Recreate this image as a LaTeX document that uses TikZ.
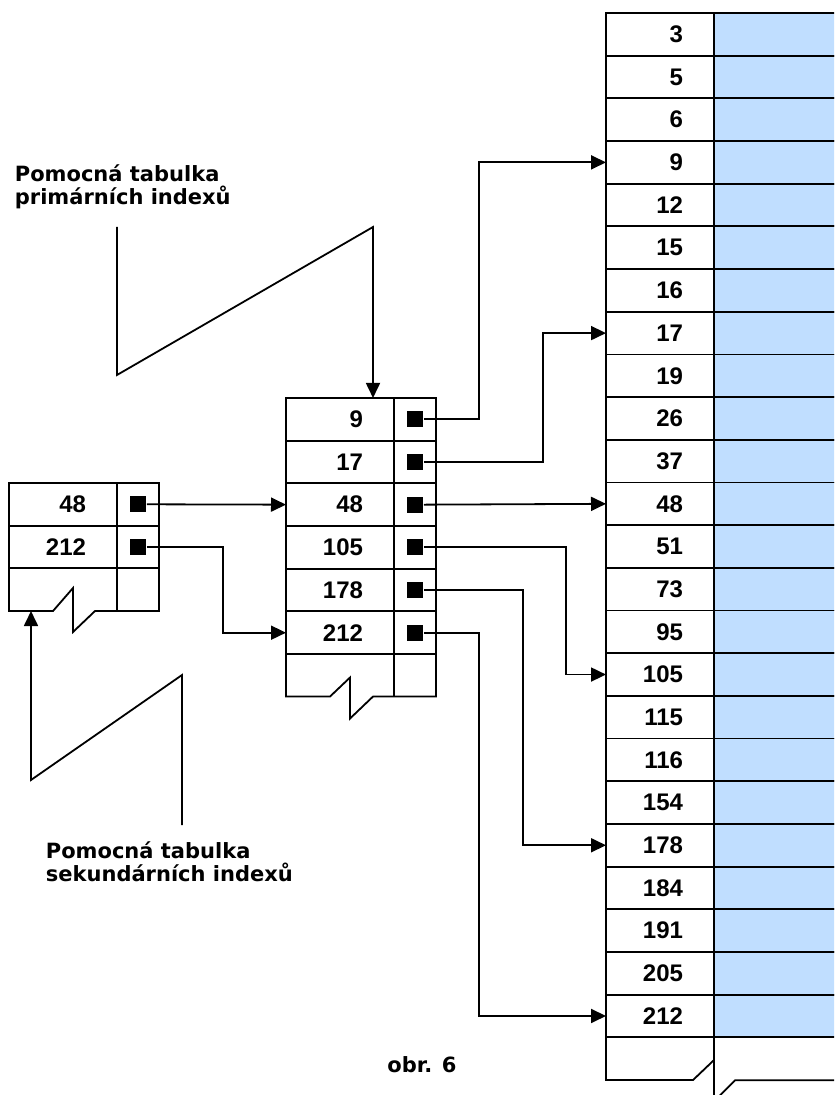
\documentclass[tikz,border=0pt]{standalone}
\usepackage{fontspec}
\setmainfont{DejaVu Sans}
\newfontfamily\numfont{Liberation Sans}
\usepackage{tikz}
\usetikzlibrary{positioning,arrows.meta}
\definecolor{recblue}{RGB}{192,222,255}

\begin{document}
\begin{tikzpicture}[
  x=0.5pt, y=-0.5pt, line width=0.9pt,
  font=\bfseries\fontsize{10.5}{11.5}\selectfont,
  keycell/.style={draw, outer sep=0pt, minimum height=21.34pt, text width=23pt,
    inner xsep=15.5pt, inner ysep=0pt, align=right,
    font=\numfont\bfseries\fontsize{12}{14}\selectfont},
  ptrcell/.style={draw, outer sep=0pt, minimum height=21.34pt, minimum width=21pt, inner sep=0pt},
  datacell/.style={draw, fill=recblue, outer sep=0pt, minimum height=21.34pt,
    minimum width=70pt, inner sep=0pt},
  ptrmark/.style={fill=black, minimum size=8pt, inner sep=0pt},
  lbl/.style={align=left, inner sep=0pt},
  arr/.style={-{Triangle[length=7.5pt, width=7pt]}}
]
\useasboundingbox (0,0) rectangle (834,1095);
\clip (0,0) rectangle (834,1095);

% data file, sorted by key
\foreach \k [count=\i from 0] in {3,5,6,9,12,15,16,17,19,26,37,48,51,73,95,105,115,116,154,178,184,191,205,212}{
  \node[keycell] (d-\k) at (660,{34.34+42.68*\i}) {\k};
  \node[datacell, right=0pt of d-\k] (v-\k) {};
}
\draw (d-212.south west) -- ++(0,42.7) -- ++(87,0) -- ++(21,-20);
\draw (d-212.south east) -- ++(0,70);
\draw ([shift={(4,60)}]d-212.south east) -- ++(17,-17) -- ++(120,0);

% primary index table
\node[keycell] (m-9) at (340,419.3) {9};
\foreach \k/\up in {17/9,48/17,105/48,178/105,212/178}
  \node[keycell, below=0pt of m-\up] (m-\k) {\k};
\foreach \k in {9,17,48,105,178,212}{
  \node[ptrcell, right=0pt of m-\k] (mc-\k) {};
  \node[ptrmark] (mp-\k) at (mc-\k) {};
}
\draw (m-212.south west) -- ++(0,42.5) -- ++(44,0) -- ++(20,-19) -- ++(0,41)
  -- ++(23,-22) -| (mc-212.south east);
\draw (m-212.south east) -- ++(0,42.5);

% secondary index table
\node[keycell] (l-48) at (63,504.3) {48};
\node[keycell, below=0pt of l-48] (l-212) {212};
\foreach \k in {48,212}{
  \node[ptrcell, right=0pt of l-\k] (lc-\k) {};
  \node[ptrmark] (lp-\k) at (lc-\k) {};
}
\draw (l-212.south west) -- ++(0,42.7) coordinate (lbot) -- ++(44,0) -- ++(20,-23)
  -- ++(0,44) -- ++(22,-21) -| (lc-212.south east);
\draw (l-212.south east) -- ++(0,42.7);

% pointers
\draw[arr] (lp-48.east) -- (m-48.west);
\draw[arr] (lp-212.east) -- ++(76,0) |- (m-212.west);
\draw[arr] (mp-9.east) -- ++(55,0) |- (d-9.west);
\draw[arr] (mp-17.east) -- ++(119,0) |- (d-17.west);
\draw[arr] (mp-48.east) -- (d-48.west);
\draw[arr] (mp-105.east) -- ++(142,0) |- (d-105.west);
\draw[arr] (mp-178.east) -- ++(99,0) |- (d-178.west);
\draw[arr] (mp-212.east) -- ++(55,0) |- (d-212.west);

% labels
\node[lbl, anchor=north west] (lblprim) at (14,164) {Pomocná tabulka\\primárních indexů};
\node[lbl, anchor=north west] (lblsek) at (45,841) {Pomocná tabulka\\sekundárních indexů};
\node[lbl, anchor=base] (obr) at (422,1072) {obr. 6};

\coordinate (zp) at (117,227);
\draw[arr] (zp) -- ++(0,148) -- ++(256,-148) coordinate (zq) -- (zq |- m-9.north);
\coordinate (zs) at (182,825);
\draw[arr] (zs) -- ++(0,-150) -- ++(-151,105) coordinate (zt) -- (zt |- lbot);
\end{tikzpicture}
\end{document}
